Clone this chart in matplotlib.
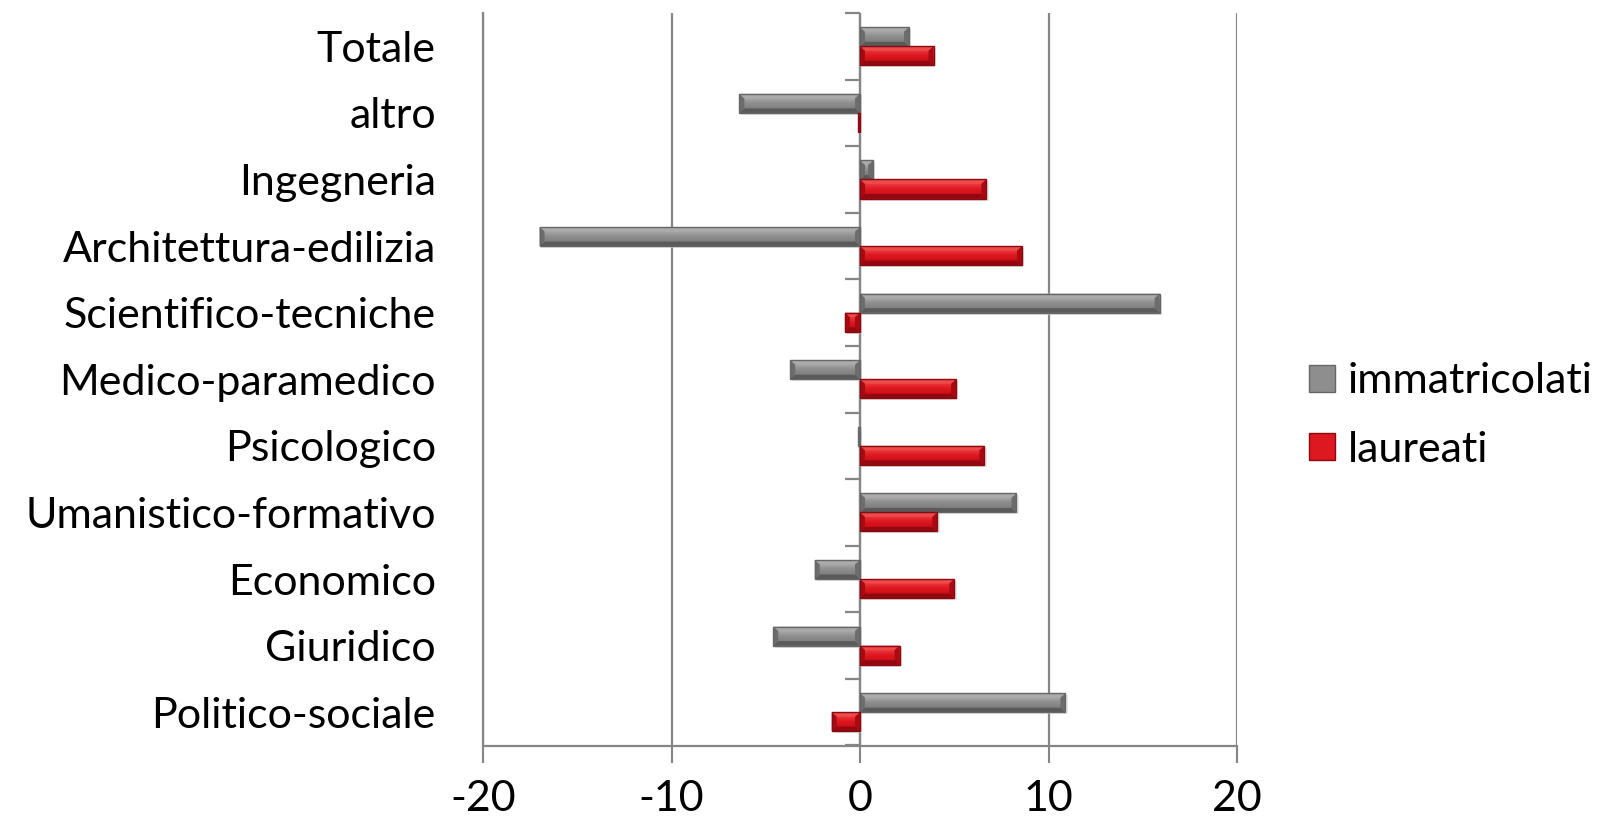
import numpy as np
import matplotlib.pyplot as plt
from matplotlib.patches import Polygon, Patch
from matplotlib.colors import LinearSegmentedColormap

# dati (variazione %)
categorie = ["Politico-sociale", "Giuridico", "Economico", "Umanistico-formativo",
             "Psicologico", "Medico-paramedico", "Scientifico-tecniche",
             "Architettura-edilizia", "Ingegneria", "altro", "Totale"]
immatricolati = [10.9, -4.6, -2.4, 8.3, -0.1, -3.7, 15.9, -17.0, 0.7, -6.4, 2.6]
laureati = [-1.5, 2.1, 5.0, 4.1, 6.6, 5.1, -0.8, 8.6, 6.7, -0.1, 3.9]
serie = ["immatricolati", "laureati"]
xticks = [-20, -10, 0, 10, 20]

plt.rcParams['font.family'] = ['Lato', 'DejaVu Sans']
GRIGIO_LINEA = '#868686'

stili = {
    "immatricolati": dict(face=['#c4c4c4', '#8e8e8e', '#767676'], top='#ababab',
                          bottom='#5a5a5a', side='#6c6c6c', edge='#666666'),
    "laureati": dict(face=['#f65a5a', '#de1820', '#c00812'], top='#ee4a4a',
                     bottom='#920810', side='#a80a12', edge='#880a10'),
}

fig = plt.figure(figsize=(16.12, 8.24), dpi=100)
ax = fig.add_axes([483/1612, 1 - 745.5/824, (1237-483)/1612, (745.5-13)/824])

y = np.arange(len(categorie))
h = 0.286
b_imm = ax.barh(y + h/2, immatricolati, height=h, color='none', zorder=3)
b_lau = ax.barh(y - h/2, laureati, height=h, color='none', zorder=3)

ax.set_xlim(-20, 20)
ax.set_ylim(-0.5, len(categorie) - 0.5)

# smusso "3D" alla Excel
dx_px, dy_px = 5, 4.5
ppx = 40 / (1237 - 483)          # unita' dati per pixel in x
ppy = len(categorie) / (745.5 - 13)


def smussa(bars, st):
    cmap = LinearSegmentedColormap.from_list('g', st['face'])
    grad = np.linspace(0, 1, 40).reshape(-1, 1)
    for b in bars:
        x0, x1 = sorted([b.get_x(), b.get_x() + b.get_width()])
        y0, y1 = b.get_y(), b.get_y() + b.get_height()
        dx = min(dx_px * ppx, (x1 - x0) / 2)
        dy = dy_px * ppy
        # ombra
        ax.add_patch(Polygon([(x0 + 0.1, y0 - 0.03), (x1 + 0.12, y0 - 0.03),
                              (x1 + 0.12, y1 - 0.03), (x0 + 0.1, y1 - 0.03)],
                             closed=True, fc='#d8d8d8', ec='none', alpha=0.6, zorder=2.5))
        im = ax.imshow(grad, extent=(x0, x1, y0, y1), origin='upper', cmap=cmap,
                       aspect='auto', zorder=3.1, interpolation='bilinear')
        rect = Polygon([(x0, y0), (x1, y0), (x1, y1), (x0, y1)], closed=True,
                       fc='none', ec='none', transform=ax.transData)
        ax.add_patch(rect)
        im.set_clip_path(rect)
        facce = [
            ([(x0, y1), (x1, y1), (x1 - dx, y1 - dy), (x0 + dx, y1 - dy)], st['top']),
            ([(x0, y0), (x1, y0), (x1 - dx, y0 + dy), (x0 + dx, y0 + dy)], st['bottom']),
            ([(x0, y0), (x0, y1), (x0 + dx, y1 - dy), (x0 + dx, y0 + dy)], st['side']),
            ([(x1, y0), (x1, y1), (x1 - dx, y1 - dy), (x1 - dx, y0 + dy)], st['side']),
        ]
        for pts, c in facce:
            ax.add_patch(Polygon(pts, closed=True, fc=c, ec='none', zorder=3.2))
        ax.add_patch(Polygon([(x0, y0), (x1, y0), (x1, y1), (x0, y1)], closed=True,
                             fc='none', ec=st['edge'], lw=1.0, zorder=3.3))


smussa(b_imm, stili["immatricolati"])
smussa(b_lau, stili["laureati"])

# griglia verticale e assi
ax.set_xticks(xticks)
ax.set_xticklabels([str(v) for v in xticks])
ax.grid(axis='x', color=GRIGIO_LINEA, lw=1.6, zorder=1)
ax.set_axisbelow(True)
ax.tick_params(axis='x', direction='out', length=12, width=1.5, color=GRIGIO_LINEA,
               pad=13, labelsize=31)
ax.set_yticks(y)
ax.set_yticklabels(categorie)
ax.tick_params(axis='y', length=0, pad=34, labelsize=31)
for lab in ax.get_xticklabels() + ax.get_yticklabels():
    lab.set_color('black')

for s in ['top', 'right']:
    ax.spines[s].set_visible(False)
for s in ['left', 'bottom']:
    ax.spines[s].set_color(GRIGIO_LINEA)
    ax.spines[s].set_linewidth(1.6)

# asse delle categorie sullo zero con tacche
ax.axvline(0, color=GRIGIO_LINEA, lw=1.6, zorder=2)
confini = np.arange(len(categorie) + 1) - 0.5
ax.hlines(confini, -15 * ppx, 0, color=GRIGIO_LINEA, lw=1.6, zorder=2, clip_on=False)

# legenda
maniglie = [Patch(fc='#8e8e8e', ec='#666666', lw=1.0),
            Patch(fc='#de1820', ec='#880a10', lw=1.0)]
fig.legend(maniglie, serie, loc='center left', bbox_to_anchor=(1309/1612, 1 - 415.5/824),
           frameon=False, fontsize=31, handlelength=0.6, handleheight=0.6,
           handletextpad=0.3, labelspacing=0.7, borderpad=0, borderaxespad=0)

fig.savefig('out.png', dpi=100)
